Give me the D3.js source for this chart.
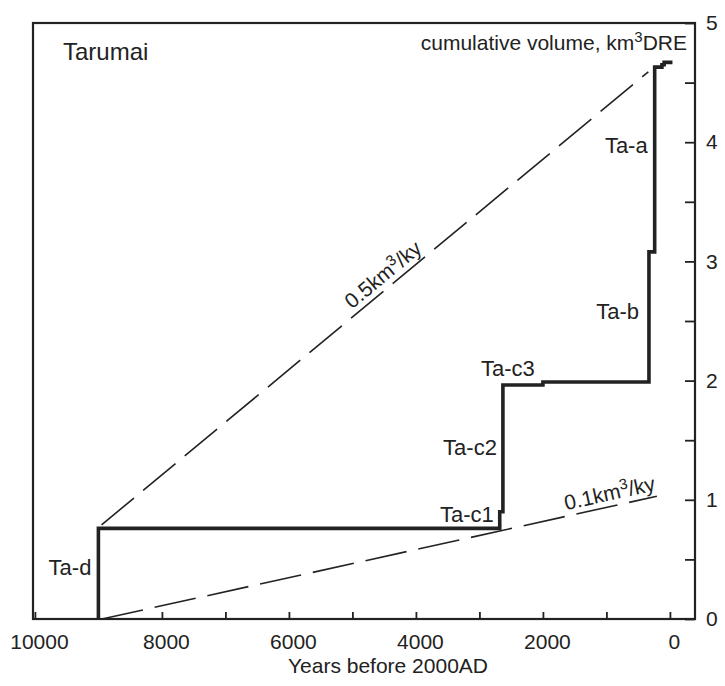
<!DOCTYPE html>
<html>
<head>
<meta charset="utf-8">
<script src="https://cdn.jsdelivr.net/npm/d3@7"></script>
<style>
  html, body { margin: 0; padding: 0; background: #fff; }
  svg { display: block; }
  text { font-family: "Liberation Sans", Arial, Helvetica, sans-serif; fill: #222; }
</style>
</head>
<body>
<svg id="chart" width="725" height="686"></svg>
<script>
// ---- data ----
const stepYears   = [9000, 9000, 2680, 2630, 2000, 330, 240, 126, 91, -40];
const stepVolumes = [0, 0.76, 0.90, 1.963, 1.988, 3.08, 4.63, 4.65, 4.67, 4.67];

const eruptionNames = ["Ta-d", "Ta-c1", "Ta-c2", "Ta-c3", "Ta-b", "Ta-a"];
const eruptionYears = [9000, 2680, 2630, 2630, 330, 240];

const rateLabels = ["0.5", "0.1"];
const rateStartYears = [8950, 8945];
const rateStartVolumes = [0.79, 0];
const rateEndYears = [340, 205];
const rateEndVolumes = [4.59, 1.03];

const xTicks = [10000, 9000, 8000, 7000, 6000, 5000, 4000, 3000, 2000, 1000, 0];
const xTickLabels = [10000, 8000, 6000, 4000, 2000, 0];
const yTicks = [0, 0.5, 1, 1.5, 2, 2.5, 3, 3.5, 4, 4.5, 5];
const yTickLabels = [0, 1, 2, 3, 4, 5];

// ---- layout ----
const svg = d3.select("#chart");
const L = 33, R = 695, T = 23, B = 619;
const x = d3.scaleLinear().domain([10030, -395]).range([L, R]);
const y = d3.scaleLinear().domain([0, 5]).range([B, T]);
const ink = "#222";

// frame
svg.append("rect").attr("x", L).attr("y", T).attr("width", R - L).attr("height", B - T)
  .attr("fill", "none").attr("stroke", ink).attr("stroke-width", 2.2);

// bottom axis
const xAxis = d3.axisBottom(x).tickValues(xTicks)
  .tickSizeInner(-7).tickSizeOuter(0).tickPadding(15)
  .tickFormat(d => xTickLabels.includes(d) ? String(d) : "");
const gx = svg.append("g").attr("transform", `translate(0,${B})`).call(xAxis);
gx.select(".domain").remove();
gx.selectAll(".tick line").attr("stroke", ink).attr("stroke-width", 1.8);
gx.selectAll(".tick text").attr("font-size", 21).attr("dx", 4)
  .style("font-family", '"Liberation Sans", Arial, sans-serif').attr("fill", ink);

// right axis
const yAxis = d3.axisRight(y).tickValues(yTicks)
  .tickSizeInner(-10).tickSizeOuter(0).tickPadding(11)
  .tickFormat(d => yTickLabels.includes(d) ? String(d) : "");
const gy = svg.append("g").attr("transform", `translate(${R},0)`).call(yAxis);
gy.select(".domain").remove();
gy.selectAll(".tick line").attr("stroke", ink).attr("stroke-width", 1.8);
gy.selectAll(".tick text").attr("font-size", 21)
  .style("font-family", '"Liberation Sans", Arial, sans-serif').attr("fill", ink);

// axis title
svg.append("text").attr("x", 388).attr("y", 673).attr("text-anchor", "middle")
  .attr("font-size", 21).text("Years before 2000AD");

// Tarumai title
svg.append("text").attr("x", 63).attr("y", 60).attr("font-size", 24).text("Tarumai");

// y label (top right)
const yl = svg.append("text").attr("x", 687).attr("y", 50).attr("text-anchor", "end").attr("font-size", 21);
yl.append("tspan").text("cumulative volume, km");
yl.append("tspan").attr("font-size", 15).attr("dy", -8).text("3");
yl.append("tspan").attr("dy", 8).text("DRE");

// rate lines
rateLabels.forEach((lab, i) => {
  const x0 = x(rateStartYears[i]), y0 = y(rateStartVolumes[i]);
  const x1 = x(rateEndYears[i]), y1 = y(rateEndVolumes[i]);
  svg.append("line").attr("x1", x0).attr("y1", y0).attr("x2", x1).attr("y2", y1)
    .attr("stroke", ink).attr("stroke-width", 1.6).attr("stroke-dasharray", "42,12");
  const ang = Math.atan2(y1 - y0, x1 - x0) * 180 / Math.PI;
  const t = i === 0 ? 0.53 : 0.92;
  const px = x0 + t * (x1 - x0), py = y0 + t * (y1 - y0);
  const tx = svg.append("text").attr("transform", `translate(${px},${py}) rotate(${ang})`)
    .attr("y", -6).attr("text-anchor", "middle").attr("font-size", 21);
  tx.append("tspan").text(lab + "km");
  tx.append("tspan").attr("font-size", 15).attr("dy", -8).text("3");
  tx.append("tspan").attr("dy", 8).text("/ky");
});

// step line of cumulative volume
const pts = stepYears.map((yr, i) => [x(yr), y(stepVolumes[i])]);
svg.append("path").attr("d", d3.line().curve(d3.curveStepAfter)(pts))
  .attr("fill", "none").attr("stroke", ink).attr("stroke-width", 3.6)
  .attr("stroke-linejoin", "miter");

// eruption labels
const labelPlace = {
  "Ta-d":  { dx: -7, v: 0.37, anchor: "end" },
  "Ta-c1": { dx: -6, v: 0.81, anchor: "end" },
  "Ta-c2": { dx: -6, v: 1.38, anchor: "end" },
  "Ta-c3": { dx: 5,  v: 2.04, anchor: "middle" },
  "Ta-b":  { dx: -10, v: 2.52, anchor: "end" },
  "Ta-a":  { dx: -7, v: 3.91, anchor: "end" }
};
eruptionNames.forEach((n, i) => {
  const p = labelPlace[n];
  svg.append("text").attr("x", x(eruptionYears[i]) + p.dx).attr("y", y(p.v))
    .attr("text-anchor", p.anchor).attr("font-size", 22).text(n);
});
</script>
</body>
</html>
